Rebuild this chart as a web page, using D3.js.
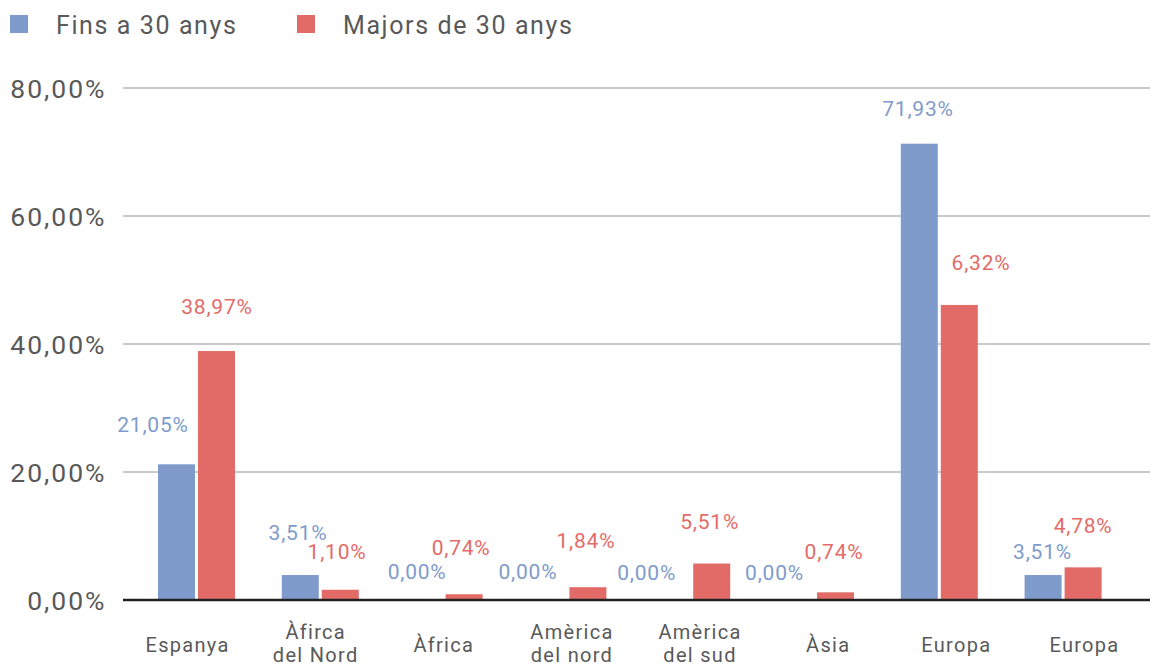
<!DOCTYPE html>
<html>
<head>
<meta charset="utf-8">
<script src="https://cdn.jsdelivr.net/npm/d3@7"></script>
<style>
  html, body { margin: 0; padding: 0; background: #fff; }
  svg { display: block; font-family: Roboto, "Liberation Sans", sans-serif; }
</style>
</head>
<body>
<svg id="chart" width="1150" height="666"></svg>
<script>
// ---- data ----
const categories = ["Espanya", "Àfirca del Nord", "Àfrica", "Amèrica del nord", "Amèrica del sud", "Àsia", "Europa", "Europa"];
const seriesNames = ["Fins a 30 anys", "Majors de 30 anys"];
const finsA30 = [21.2, 3.9, 0, 0, 0, 0, 71.3, 3.9];
const majors30 = [38.9, 1.6, 0.9, 2.0, 5.7, 1.2, 46.1, 5.1];
const finsLabels = ["21,05%", "3,51%", "0,00%", "0,00%", "0,00%", "0,00%", "71,93%", "3,51%"];
const majorsLabels = ["38,97%", "1,10%", "0,74%", "1,84%", "5,51%", "0,74%", "6,32%", "4,78%"];
const yTicks = [0, 20, 40, 60, 80];
const yTickLabels = ["0,00%", "20,00%", "40,00%", "60,00%", "80,00%"];

// ---- layout (label nudges, px) ----
const finsDx = [-23.5, -2.3, -7, -20, -25, -21, -1.3, -0.6];
const finsDy = [32, 35.5, 21, 21, 20, 20, 27.7, 16];
const majorsDx = [0.5, -3.3, -3, -2, -2, -1.5, 21.7, 0];
const majorsDy = [37, 30.3, 39.2, 39.2, 35, 33.3, 35, 34.4];

const colors = ["#7f9bcb", "#e36b67"];
const textGray = "#595959";

const svg = d3.select("#chart");

const y = d3.scaleLinear().domain([0, 80]).range([600, 88]);

// bar category scale
const x0 = d3.scaleBand().domain(d3.range(categories.length))
  .range([134.6, 1125]).paddingInner(0.378).paddingOuter(0.189);
const x1 = d3.scaleBand().domain([0, 1]).range([0, x0.bandwidth()]).paddingInner(0.075);

// label axis scale
const xl = d3.scaleBand().domain(d3.range(categories.length)).range([125, 1150]);

// gridlines
svg.append("g").selectAll("line").data(yTicks.filter(t => t > 0)).join("line")
  .attr("x1", 123).attr("x2", 1150)
  .attr("y1", d => y(d)).attr("y2", d => y(d))
  .attr("stroke", "#c9c9c9").attr("stroke-width", 2);

// y tick labels
svg.append("g").selectAll("text").data(yTicks).join("text")
  .attr("x", 106.5).attr("y", d => y(d) + 9.5)
  .attr("text-anchor", "end")
  .attr("font-size", 26.5).attr("letter-spacing", 2)
  .attr("fill", textGray)
  .text((d, i) => yTickLabels[i]);

// bars
const series = [finsA30, majors30];
series.forEach((vals, s) => {
  svg.append("g").selectAll("rect").data(vals).join("rect")
    .attr("x", (d, i) => x0(i) + x1(s))
    .attr("width", x1.bandwidth())
    .attr("y", d => y(d))
    .attr("height", d => y(0) - y(d))
    .attr("fill", colors[s]);
});

// baseline
svg.append("line").attr("x1", 123).attr("x2", 1150)
  .attr("y1", y(0)).attr("y2", y(0))
  .attr("stroke", "#222").attr("stroke-width", 2.5);

// data labels
const labelSets = [
  { vals: finsA30, labels: finsLabels, dx: finsDx, dy: finsDy },
  { vals: majors30, labels: majorsLabels, dx: majorsDx, dy: majorsDy }
];
labelSets.forEach((ls, s) => {
  svg.append("g").selectAll("text").data(ls.vals).join("text")
    .attr("x", (d, i) => x0(i) + x1(s) + x1.bandwidth() / 2 + ls.dx[i])
    .attr("y", (d, i) => y(d) - ls.dy[i])
    .attr("text-anchor", "middle")
    .attr("font-size", 21).attr("letter-spacing", 0.8)
    .attr("fill", colors[s])
    .text((d, i) => ls.labels[i]);
});

// category labels
const catG = svg.append("g");
categories.forEach((c, i) => {
  const idx = c.indexOf(" ");
  const lines = idx > 0 ? [c.slice(0, idx), c.slice(idx + 1)] : [c];
  const cx = xl(i) + xl.bandwidth() / 2 - 1.5;
  const t = catG.append("text")
    .attr("text-anchor", "middle")
    .attr("font-size", 20).attr("letter-spacing", 1.3)
    .attr("fill", textGray);
  if (lines.length === 1) {
    t.append("tspan").attr("x", cx).attr("y", 652).text(lines[0]);
  } else {
    t.append("tspan").attr("x", cx).attr("y", 639).text(lines[0]);
    t.append("tspan").attr("x", cx).attr("y", 662).text(lines[1]);
  }
});

// legend
const legendX = [10, 297];
const leg = svg.append("g").selectAll("g").data(seriesNames).join("g")
  .attr("transform", (d, i) => `translate(${legendX[i]},0)`);
leg.append("rect").attr("x", 0).attr("y", 15).attr("width", 18).attr("height", 18)
  .attr("fill", (d, i) => colors[i]);
leg.append("text").attr("x", 46).attr("y", 34)
  .attr("font-size", 25).attr("letter-spacing", 1.6)
  .attr("fill", textGray)
  .text(d => d);
</script>
</body>
</html>
